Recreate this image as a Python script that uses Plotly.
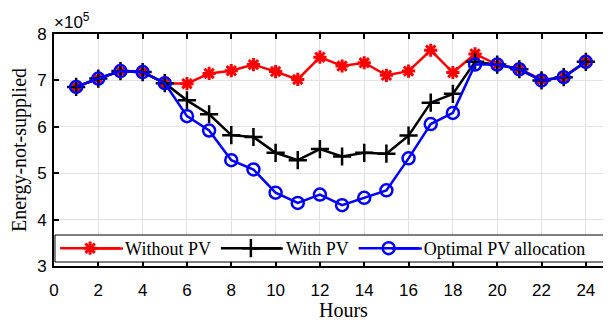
import plotly.graph_objects as go

hours = list(range(1, 25))
without_pv = [6.86e5, 7.04e5, 7.20e5, 7.18e5, 6.94e5, 6.93e5, 7.15e5, 7.21e5, 7.34e5, 7.19e5, 7.02e5, 7.50e5,
              7.31e5, 7.38e5, 7.11e5, 7.20e5, 7.65e5, 7.17e5, 7.57e5, 7.34e5, 7.25e5, 7.01e5, 7.07e5, 7.40e5]
with_pv = [6.86e5, 7.04e5, 7.20e5, 7.18e5, 6.94e5, 6.57e5, 6.27e5, 5.82e5, 5.78e5, 5.44e5, 5.28e5, 5.52e5,
           5.36e5, 5.44e5, 5.42e5, 5.81e5, 6.52e5, 6.71e5, 7.40e5, 7.34e5, 7.24e5, 7.00e5, 7.07e5, 7.40e5]
optimal = [6.86e5, 7.04e5, 7.20e5, 7.18e5, 6.94e5, 6.23e5, 5.92e5, 5.28e5, 5.08e5, 4.58e5, 4.36e5, 4.54e5,
           4.31e5, 4.47e5, 4.63e5, 5.32e5, 6.06e5, 6.30e5, 7.34e5, 7.34e5, 7.24e5, 7.00e5, 7.07e5, 7.40e5]
series_names = ["Without PV", "With PV", "Optimal PV allocation"]
series_colors = ["#ff0000", "#000000", "#0000ff"]
x_ticks = list(range(0, 25, 2))
y_ticks = [3, 4, 5, 6, 7, 8]
scale = 1e5

fig = go.Figure()
fig.add_trace(go.Scatter(x=hours, y=[v / scale for v in without_pv], name=series_names[0], mode="lines+markers",
                         line=dict(color=series_colors[0], width=2.5),
                         marker=dict(symbol="asterisk-open", size=11, color=series_colors[0],
                                     line=dict(color=series_colors[0], width=3))))
fig.add_trace(go.Scatter(x=hours, y=[v / scale for v in with_pv], name=series_names[1], mode="lines+markers",
                         line=dict(color=series_colors[1], width=2.5),
                         marker=dict(symbol="cross-thin-open", size=13, color=series_colors[1],
                                     line=dict(color=series_colors[1], width=2.5))))
fig.add_trace(go.Scatter(x=hours, y=[v / scale for v in optimal], name=series_names[2], mode="lines+markers",
                         line=dict(color=series_colors[2], width=2.5),
                         marker=dict(symbol="circle-open", size=12, color=series_colors[2],
                                     line=dict(color=series_colors[2], width=2.5))))

axis_common = dict(showline=True, linecolor="black", linewidth=2, mirror="ticks", ticks="inside",
                   ticklen=5, tickwidth=1.5, tickcolor="black", showgrid=True, gridcolor="#e3e3e3",
                   gridwidth=1, zeroline=False, automargin=False,
                   tickfont=dict(family="Liberation Sans, Arial", size=17, color="black"))

serif = "Liberation Serif, Times New Roman"

# legend frame and longer legend line samples (layout decoration)
legend_y = 0.0754
shapes = [dict(type="rect", xref="paper", yref="paper", x0=0.0018, x1=1.0, y0=0.0172, y1=0.1336,
               fillcolor="white", line=dict(color="black", width=1), layer="above")]
for c, (a, b) in zip(series_colors, [(0.0686, 0.1245), (0.357, 0.413), (0.610, 0.664)]):
    shapes.append(dict(type="line", xref="paper", yref="paper", x0=a, x1=b, y0=legend_y, y1=legend_y,
                       line=dict(color=c, width=2.5), layer="above"))

fig.update_layout(
    width=603, height=314,
    margin=dict(l=46, r=3, t=26, b=56),
    paper_bgcolor="white", plot_bgcolor="white",
    xaxis=dict(range=[0, 25], tickvals=x_ticks, ticktext=[str(t) for t in x_ticks],
               ticklabelstandoff=8, **axis_common),
    yaxis=dict(range=[3, 8], tickvals=y_ticks, ticktext=[str(t) for t in y_ticks],
               ticklabelstandoff=2, **axis_common),
    legend=dict(orientation="h", x=0.002, y=legend_y, xanchor="left", yanchor="middle",
                bgcolor="rgba(0,0,0,0)", borderwidth=0,
                font=dict(family=serif, size=18, color="black"),
                itemwidth=60, tracegroupgap=0),
    showlegend=True,
    shapes=shapes,
    annotations=[
        dict(text="×10<sup>5</sup>", x=0, y=1.0, xref="paper", yref="paper",
             xanchor="left", yanchor="bottom", showarrow=False, xshift=-2, yshift=0,
             font=dict(family="Liberation Sans, Arial", size=17, color="black")),
        dict(text="Hours", x=0.523, y=0, xref="paper", yref="paper", xanchor="center", yanchor="middle",
             yshift=-44, showarrow=False, font=dict(family=serif, size=20, color="black")),
        dict(text="Energy-not-supplied", x=0, y=0.5, xref="paper", yref="paper", xanchor="center",
             yanchor="middle", xshift=-35, textangle=-90, showarrow=False,
             font=dict(family=serif, size=20, color="black")),
    ],
)

fig.write_html("out.html")
